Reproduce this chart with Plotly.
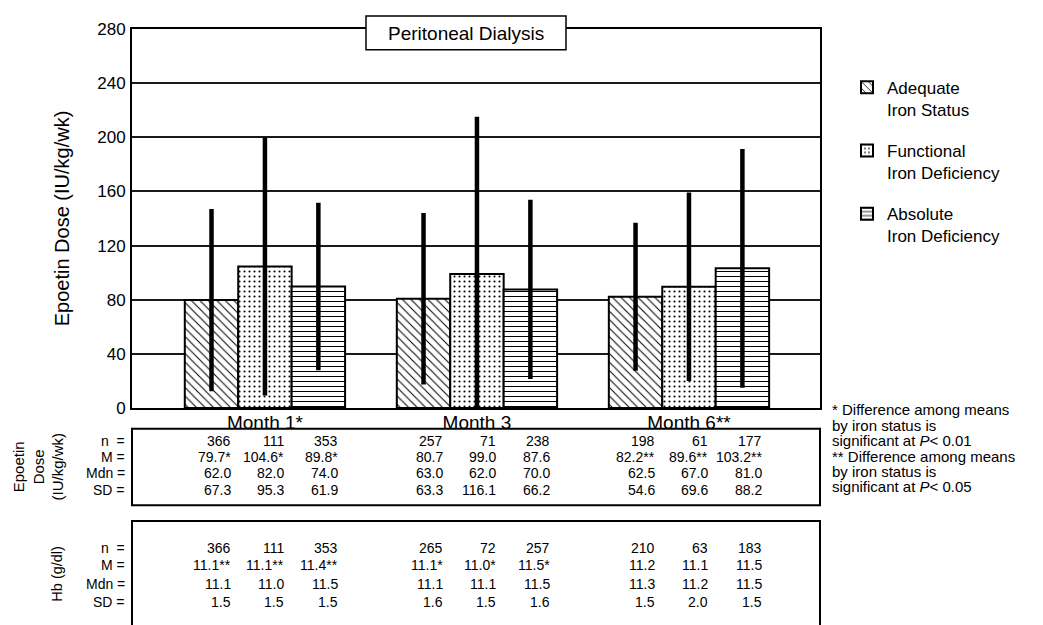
import plotly.graph_objects as go

# ---------------- data ----------------
months = ["Month 1*", "Month 3", "Month 6**"]
group_names = ["Adequate<br>Iron Status", "Functional<br>Iron Deficiency", "Absolute<br>Iron Deficiency"]

adequate_mean = [79.7, 80.7, 82.2]
functional_mean = [104.6, 99.0, 89.6]
absolute_mean = [89.8, 87.6, 103.2]
adequate_sd = [67.3, 63.3, 54.6]
functional_sd = [95.3, 116.1, 69.6]
absolute_sd = [61.9, 66.2, 88.2]

y_ticks = [0, 40, 80, 120, 160, 200, 240, 280]

row_labels = ["n\u00a0 =", "M =", "Mdn =", "SD ="]

dose_n = [["366", "111", "353"], ["257", "71", "238"], ["198", "61", "177"]]
dose_M = [["79.7*", "104.6*", "89.8*"], ["80.7", "99.0", "87.6"], ["82.2**", "89.6**", "103.2**"]]
dose_Mdn = [["62.0", "82.0", "74.0"], ["63.0", "62.0", "70.0"], ["62.5", "67.0", "81.0"]]
dose_SD = [["67.3", "95.3", "61.9"], ["63.3", "116.1", "66.2"], ["54.6", "69.6", "88.2"]]

hb_n = [["366", "111", "353"], ["265", "72", "257"], ["210", "63", "183"]]
hb_M = [["11.1**", "11.1**", "11.4**"], ["11.1*", "11.0*", "11.5*"], ["11.2", "11.1", "11.5"]]
hb_Mdn = [["11.1", "11.0", "11.5"], ["11.1", "11.1", "11.5"], ["11.3", "11.2", "11.5"]]
hb_SD = [["1.5", "1.5", "1.5"], ["1.6", "1.5", "1.6"], ["1.5", "2.0", "1.5"]]

footnote_lines = ["* Difference among means", "by iron status is",
                  "significant at <i>P</i>< 0.01", "** Difference among means",
                  "by iron status is", "significant at <i>P</i>< 0.05"]

# ---------------- layout geometry (screen px; page body has an 8px margin) ----------------
BODY = 8
W, H = 1043 - BODY, 625 - BODY
PL, PR, PT, PB = 132, 820, 26, 408   # plot area in screen px
FONT = "Liberation Sans, Arial, sans-serif"


def xp(px):
    return (px - PL) / (PR - PL)


def yp(py):
    return (PB - py) / (PB - PT)


x_pos = list(range(len(months)))
bar_w = 0.252
patterns = [
    dict(shape="\\", size=6, solidity=0.17),
    dict(shape=".", size=5, solidity=0.14),
    dict(shape="-", size=5, solidity=0.2),
]
means = [adequate_mean, functional_mean, absolute_mean]
sds = [adequate_sd, functional_sd, absolute_sd]

fig = go.Figure()
for k in range(3):
    pat = dict(patterns[k])
    pat.update(fgcolor="black", bgcolor="white", fillmode="replace")
    fig.add_trace(go.Bar(
        x=x_pos, y=means[k], name=group_names[k], legendgroup=str(k),
        width=bar_w, offset=(k - 1.5) * bar_w,
        marker=dict(color="white", line=dict(color="black", width=2), pattern=pat),
        error_y=dict(type="data", array=sds[k], visible=True, color="black",
                     thickness=4.5, width=0),
    ))

annotations = []
shapes = []


def txt(text, x, y, size, xanchor="center", xref="paper", **kw):
    d = dict(text=text, xref=xref, yref="paper", x=x, y=y, xanchor=xanchor,
             yanchor="middle", showarrow=False,
             font=dict(size=size, color="black", family=FONT))
    d.update(kw)
    annotations.append(d)


# title box
shapes.append(dict(type="rect", xref="paper", yref="paper",
                   x0=xp(366), x1=xp(566), y0=yp(47), y1=yp(13),
                   line=dict(color="black", width=1.5), fillcolor="white", layer="above"))
txt("Peritoneal Dialysis", xp(466), yp(30.5), 19)

# tables
tables = [
    (429, 506, [441, 457.5, 474, 491], [dose_n, dose_M, dose_Mdn, dose_SD]),
    (522, 660, [549, 566.5, 585, 604], [hb_n, hb_M, hb_Mdn, hb_SD]),
]
for top, bot, rows_y, rows in tables:
    shapes.append(dict(type="rect", xref="paper", yref="paper",
                       x0=0, x1=1, y0=yp(bot), y1=yp(top),
                       line=dict(color="black", width=2), fillcolor="rgba(0,0,0,0)"))
    for r, (ry, row) in enumerate(zip(rows_y, rows)):
        txt(row_labels[r], xp(127), yp(ry), 14, xanchor="right")
        for m in range(3):
            for k in range(3):
                txt(row[m][k], x_pos[m] + (k - 1) * bar_w + 0.1, yp(ry), 14,
                    xanchor="right", xref="x")

# side labels of tables
txt("Epoetin<br>Dose<br>(IU/kg/wk)", xp(38), yp(467), 15, textangle=-90)
txt("Hb (g/dl)", xp(57), yp(575), 14.5, textangle=-90)

# footnote
for i, line in enumerate(footnote_lines):
    txt(line, xp(830), yp(410 + i * 15.5), 15, xanchor="left", align="left")

fig.update_layout(
    width=W, height=H,
    margin=dict(l=PL - BODY, r=W - (PR - BODY), t=PT - BODY, b=H - (PB - BODY), pad=0),
    paper_bgcolor="white", plot_bgcolor="white",
    font=dict(family=FONT, color="black"),
    barmode="overlay",
    showlegend=True,
    legend=dict(x=xp(847), y=yp(67), xanchor="left", yanchor="top",
                font=dict(size=17, color="black", family=FONT),
                tracegroupgap=16, valign="top", bgcolor="rgba(0,0,0,0)"),
    xaxis=dict(range=[-0.627, 2.618], tickvals=x_pos, ticktext=months,
               showgrid=False, zeroline=False, showline=True, mirror=True,
               linecolor="black", linewidth=2, ticks="", ticklabelstandoff=-4,
               tickfont=dict(size=19, color="black", family=FONT)),
    yaxis=dict(range=[0, 280], tickvals=y_ticks, showgrid=True,
               gridcolor="#1a1a1a", gridwidth=1.5, zeroline=False,
               showline=True, mirror=True, linecolor="black", linewidth=2,
               ticks="", ticklabelstandoff=1,
               tickfont=dict(size=17, color="black", family=FONT),
               title=dict(text="Epoetin Dose (IU/kg/wk)", standoff=22,
                          font=dict(size=20, color="black", family=FONT))),
    annotations=annotations,
    shapes=shapes,
)

fig.write_html("out.html")
